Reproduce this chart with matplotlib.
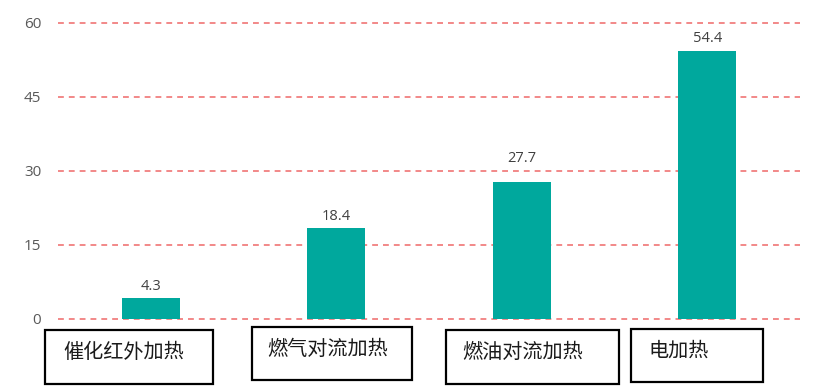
import matplotlib
matplotlib.use("Agg")
import matplotlib.pyplot as plt
from matplotlib.patches import Rectangle

categories = ["催化红外加热", "燃气对流加热", "燃油对流加热", "电加热"]
values = [4.3, 18.4, 27.7, 54.4]
yticks = [0, 15, 30, 45, 60]
label_offsets = [3, 3, 12, 3]  # points above bar top

W, H = 823, 392
fig = plt.figure(figsize=(W / 100, H / 100), dpi=100)
ax = fig.add_axes([58 / W, (H - 319) / H, (800 - 58) / W, (319 - 23) / H])

x = list(range(len(categories)))
ax.bar(x, values, width=0.315, color="#00A89D", zorder=3)
for xi, v, off in zip(x, values, label_offsets):
    ax.annotate(f"{v}", (xi, v), xytext=(0, off), textcoords="offset points",
                ha="center", va="bottom", fontsize=10.5, color="#404040",
                family=["Open Sans", "DejaVu Sans"])

ax.set_xlim(-0.5, len(categories) - 0.5)
ax.set_ylim(0, 60)
ax.set_yticks(yticks)
ax.set_yticklabels([str(t) for t in yticks], fontsize=11, color="#595959",
                   family=["Open Sans", "DejaVu Sans"])
ax.tick_params(axis="y", length=0, pad=12)
ax.set_xticks([])
for s in ax.spines.values():
    s.set_visible(False)
for t in yticks:
    ax.axhline(t, color="#F07474", lw=1.2, ls=(0, (3.5, 3)), zorder=1, clip_on=False)

# Label boxes (pixel layout)
boxes = [(45, 330, 213, 384, 63, 352), (252, 327, 412, 380, 267, 349),
         (446, 330, 619, 384, 462, 352), (631, 329, 763, 382, 648, 351)]
for cat, (x0, y0, x1, y1, tx, ty) in zip(categories, boxes):
    fig.patches.append(Rectangle((x0 / W, 1 - y1 / H), (x1 - x0) / W, (y1 - y0) / H,
                                 transform=fig.transFigure, fill=False,
                                 edgecolor="black", lw=1.6))
    fig.text(tx / W, 1 - ty / H, cat, ha="left", va="center", fontsize=14.5,
             color="#1a1a1a", family=["Noto Sans CJK SC", "DejaVu Sans"])

fig.savefig("out.png", dpi=100)
